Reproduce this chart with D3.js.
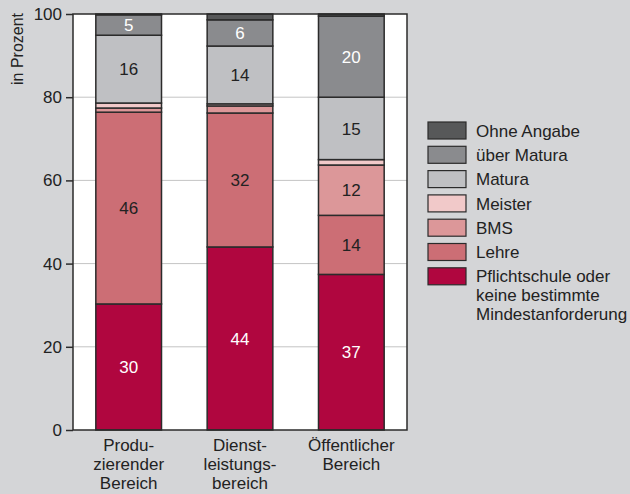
<!DOCTYPE html>
<html>
<head>
<meta charset="utf-8">
<script src="https://cdn.jsdelivr.net/npm/d3@7"></script>
<style>
    body { margin: 0; background: #d4d5d7; }
    svg { display: block; font-family: "Liberation Sans", Arial, sans-serif; }
</style>
</head>
<body>
<div class="chart"></div>
<script>
// categories (x labels split into lines)
const categories = ["Produzierender Bereich", "Dienstleistungsbereich", "Öffentlicher Bereich"];
const categoryLines = [["Produ-", "zierender", "Bereich"], ["Dienst-", "leistungs-", "bereich"], ["Öffentlicher", "Bereich"]];

// series, bottom to top
const seriesKeys = ["Pflichtschule", "Lehre", "BMS", "Meister", "Matura", "über Matura", "Ohne Angabe"];
const pflichtschule = [30.3, 44.0, 37.4];
const lehre = [46.1, 32.2, 14.2];
const bms = [1.0, 1.7, 12.1];
const meister = [1.2, 0.5, 1.3];
const matura = [16.3, 13.9, 15.0];
const ueberMatura = [4.9, 6.3, 19.5];
const ohneAngabe = [0.2, 1.4, 0.5];

const legendLabels = [["Ohne Angabe"], ["über Matura"], ["Matura"], ["Meister"], ["BMS"], ["Lehre"],
    ["Pflichtschule oder", "keine bestimmte", "Mindestanforderung"]];
const yTicks = [0, 20, 40, 60, 80, 100];

const COLORS = ["#b0063f", "#cc6e75", "#dc9799", "#f1c9c9", "#bfc0c3", "#8a8b8e", "#575859"];
const LABEL_COLORS = ["#fff", "#222", "#222", "#222", "#222", "#fff", "#fff"];
const FONT = "17px";

let data = categories.map((c, i) => ({
    cat: c,
    "Pflichtschule": pflichtschule[i],
    "Lehre": lehre[i],
    "BMS": bms[i],
    "Meister": meister[i],
    "Matura": matura[i],
    "über Matura": ueberMatura[i],
    "Ohne Angabe": ohneAngabe[i]
}));

let svg = d3.select(".chart").append("svg").attr("width", 630).attr("height", 494),
    margin = {top: 14, right: 223, bottom: 64, left: 73},
    width = 630 - margin.left - margin.right,
    height = 494 - margin.top - margin.bottom,
    g = svg.append("g").attr("transform", "translate(" + margin.left + "," + margin.top + ")");

let x = d3.scaleBand().domain(categories).range([0, width]).paddingInner(0.41).paddingOuter(0.205);
let y = d3.scaleLinear().domain([0, 100]).range([height, 0]);

// plot background
g.append("rect").attr("width", width).attr("height", height).attr("fill", "#fff");

// gridlines
g.append("g")
    .selectAll("line")
    .data(yTicks.filter(d => d > 0 && d < 100))
    .enter().append("line")
    .attr("x1", 0).attr("x2", width)
    .attr("y1", d => y(d)).attr("y2", d => y(d))
    .attr("stroke", "#c4c4c4").attr("stroke-width", 1);

let stacked = d3.stack().keys(seriesKeys)(data);

let layers = g.append("g")
    .selectAll("g")
    .data(stacked)
    .enter().append("g")
    .attr("fill", (d, i) => COLORS[i]);

layers.selectAll("rect")
    .data(d => d)
    .enter().append("rect")
    .attr("x", d => x(d.data.cat))
    .attr("y", d => y(d[1]))
    .attr("height", d => y(d[0]) - y(d[1]))
    .attr("width", x.bandwidth())
    .attr("stroke", "#2b2b2b")
    .attr("stroke-width", 1.5);

// value labels for the bigger segments
layers.each(function (layer, i) {
    d3.select(this).selectAll("text")
        .data(layer.filter(d => d[1] - d[0] >= 4))
        .enter().append("text")
        .attr("x", d => x(d.data.cat) + x.bandwidth() / 2)
        .attr("y", d => y((d[0] + d[1]) / 2))
        .attr("dy", "0.36em")
        .attr("text-anchor", "middle")
        .attr("font-size", FONT)
        .attr("fill", LABEL_COLORS[i])
        .text(d => Math.round(d[1] - d[0]));
});

// frame
g.append("rect").attr("width", width).attr("height", height)
    .attr("fill", "none").attr("stroke", "#2b2b2b").attr("stroke-width", 1.5);

// y axis
let yAxis = g.append("g")
    .call(d3.axisLeft(y).tickValues(yTicks).tickSize(7).tickPadding(4));
yAxis.select(".domain").remove();
yAxis.selectAll(".tick line").attr("stroke", "#2b2b2b").attr("stroke-width", 1.5);
yAxis.selectAll(".tick text").attr("font-size", FONT).attr("fill", "#222")
    .attr("font-family", "Liberation Sans, Arial, sans-serif");

svg.append("text")
    .attr("transform", "translate(23,49) rotate(-90)")
    .attr("text-anchor", "middle")
    .attr("font-size", "16px")
    .attr("fill", "#222")
    .text("in Prozent");

// x labels
let xLabels = g.append("g").selectAll("text")
    .data(categories)
    .enter().append("text")
    .attr("x", d => x(d) + x.bandwidth() / 2)
    .attr("y", height + 21)
    .attr("text-anchor", "middle")
    .attr("font-size", FONT)
    .attr("fill", "#222");
xLabels.each(function (d, i) {
    d3.select(this).selectAll("tspan")
        .data(categoryLines[i])
        .enter().append("tspan")
        .attr("x", x(d) + x.bandwidth() / 2)
        .attr("dy", (t, j) => j === 0 ? 0 : 19)
        .text(t => t);
});

// legend (top to bottom reversed)
let legend = svg.append("g").attr("transform", "translate(428,122)");
let legendColors = COLORS.slice().reverse();
let items = legend.selectAll("g")
    .data(legendLabels)
    .enter().append("g")
    .attr("transform", (d, i) => "translate(0," + i * 24.3 + ")");
items.append("rect")
    .attr("width", 38).attr("height", 17)
    .attr("fill", (d, i) => legendColors[i])
    .attr("stroke", "#2b2b2b").attr("stroke-width", 1.2);
items.append("text")
    .attr("x", 48).attr("y", 8.5)
    .attr("font-size", FONT)
    .attr("fill", "#222")
    .selectAll("tspan")
    .data(d => d)
    .enter().append("tspan")
    .attr("x", 48)
    .attr("dy", (t, j) => j === 0 ? "0.36em" : 19)
    .text(t => t);
</script>
</body>
</html>
